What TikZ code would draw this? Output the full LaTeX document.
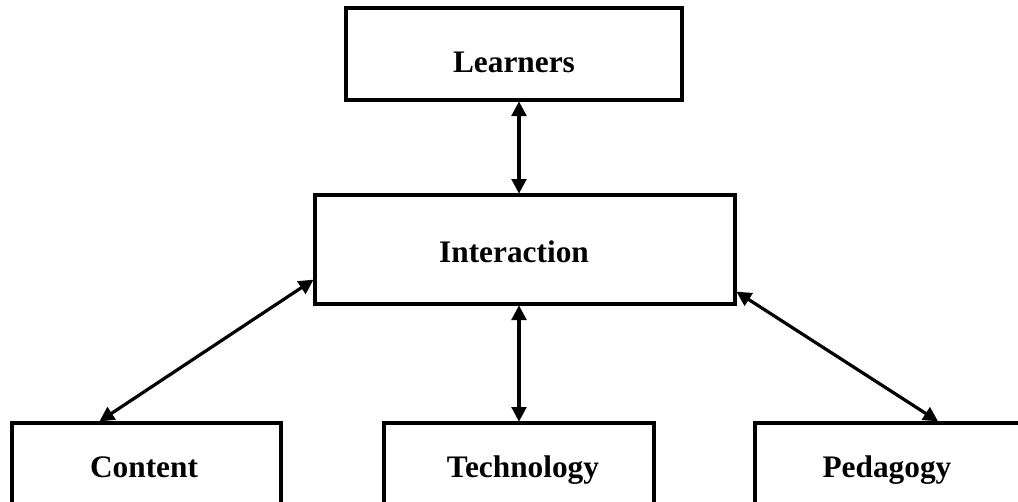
\documentclass[tikz,border=0pt]{standalone}
\usepackage{fontspec}
\setmainfont{Liberation Serif}
\usetikzlibrary{arrows.meta,calc}
\begin{document}
\begin{tikzpicture}[x=0.75pt,y=-0.75pt,
  box/.style={draw=black, line width=3pt, rectangle, inner sep=0pt, fill=white},
  lbl/.style={anchor=base, inner sep=0pt, font=\bfseries\fontsize{23.5}{28}\selectfont},
  link/.style={line width=2.4pt, {Triangle[length=11pt,width=11pt]}-{Triangle[length=11pt,width=11pt]}, shorten <=-0.5pt, shorten >=-0.5pt}]
  \useasboundingbox (0,0) rectangle (1018,501);
  \clip (0,0) rectangle (1018,501);
  % boxes
  \node[box, minimum width=252pt, minimum height=69pt] (learners) at (514,54) {};
  \node[box, minimum width=315pt, minimum height=81.75pt] (inter) at (525,249.5) {};
  \node[box, minimum width=201.75pt, minimum height=102.75pt] (content) at (146.5,491.5) {};
  \node[box, minimum width=202.5pt, minimum height=102.75pt] (tech) at (519,491.5) {};
  \node[box, minimum width=206.25pt, minimum height=102.75pt] (ped) at (892,491.5) {};
  % labels
  \node[lbl] (tlearners) at (514,72) {Learners};
  \node[lbl] (tinter) at (514,262) {Interaction};
  \node[lbl] (tcontent) at (144,477) {Content};
  \node[lbl] (ttech) at (523,477) {Technology};
  \node[lbl] (tped) at (887,477) {Pedagogy};
  % connectors
  \draw[link] (learners.south -| tech.north) -- (inter.north -| tech.north);
  \draw[link] (inter.south -| tech.north) -- (tech.north);
  \draw[link] ($(content.north west)+(90,0)$) -- ($(inter.south west)+(0,-26)$);
  \draw[link] ($(inter.south east)+(0,-14)$) -- ($(ped.north west)+(185,0)$);
\end{tikzpicture}
\end{document}
